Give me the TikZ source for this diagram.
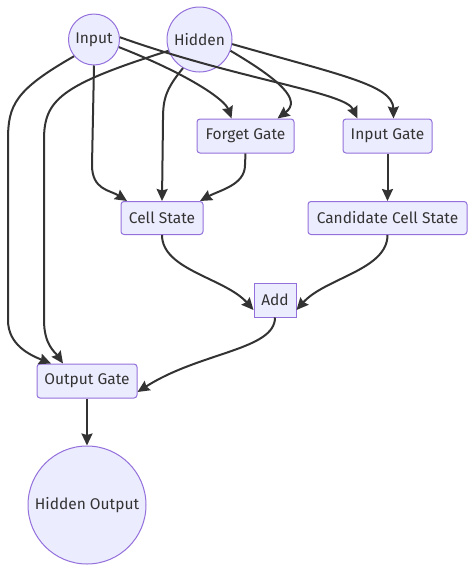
\documentclass[tikz,border=0pt]{standalone}
\usepackage{fontspec}
\setmainfont{Fira Sans}
\usetikzlibrary{arrows.meta}
\definecolor{nodefill}{HTML}{ECECFF}
\definecolor{nodeline}{HTML}{9370DB}
\definecolor{edge}{HTML}{333333}
\definecolor{txt}{HTML}{333333}
\tikzset{
  base/.style={draw=nodeline, fill=nodefill, line width=1pt, text=txt, font=\fontsize{15.5}{18}\selectfont, inner sep=0pt},
  box/.style={base, rectangle, rounded corners=3pt, minimum height=34pt},
  circ/.style={base, circle},
  conn/.style={draw=edge, line width=2pt, -{Stealth[length=12pt,width=11pt,inset=1.5pt]}},
}
\begin{document}
\begin{tikzpicture}[x=1pt,y=-1pt]
\useasboundingbox (0,0) rectangle (474,571);
\node[circ, minimum size=51pt] (inp) at (94,39.5) {Input};
\node[circ, minimum size=65pt] (hid) at (199.5,39.5) {Hidden};
\node[box, minimum width=97pt] (fg) at (245.5,136) {Forget Gate};
\node[box, minimum width=89pt] (ig) at (387.5,136) {Input Gate};
\node[box, minimum width=82pt, minimum height=33pt] (cs) at (162,218) {Cell State};
\node[box, minimum width=159pt, minimum height=33pt] (ccs) at (387.5,218) {Candidate Cell State};
\node[box, minimum width=42pt, rounded corners=0pt] (add) at (275,300) {Add};
\node[box, minimum width=100pt] (og) at (87,381) {Output Gate};
\node[circ, minimum size=118pt] (ho) at (87,505) {Hidden Output};
% Input edges
\draw[conn] (inp.220) .. controls (15,90) and (8,105) .. (8,140) -- (8,320) .. controls (8,345) and (30,355) .. ([xshift=-36pt]og.north);
\draw[conn] (inp.south) -- (92,165) .. controls (92,190) and (110,190) .. ([xshift=-35pt]cs.north);
\draw[conn] (inp.-17) .. controls (190,75) and (225,100) .. ([xshift=-14pt]fg.north);
\draw[conn] (inp.5) .. controls (240,80) and (345,92) .. ([xshift=-30pt]ig.north);
% Hidden edges
\draw[conn] (hid.200) .. controls (60,85) and (44,100) .. (44,140) -- (44,320) .. controls (44,345) and (55,352) .. ([xshift=-24pt]og.north);
\draw[conn] (hid.240) .. controls (165,90) and (163,100) .. (163,120) -- (cs.north);
\draw[conn] (hid.-20) .. controls (280,80) and (302,100) .. ([xshift=32pt]fg.north);
\draw[conn] (hid.-8) .. controls (340,75) and (393,85) .. ([xshift=6pt]ig.north);
% Others
\draw[conn] (fg.south) -- (245,165) .. controls (245,185) and (220,190) .. ([xshift=38pt]cs.north);
\draw[conn] (ig.south) -- (ccs.north);
\draw[conn] (cs.south) .. controls (162,270) and (225,278) .. ([yshift=-10pt]add.west);
\draw[conn] (ccs.south) .. controls (387.5,270) and (325,278) .. ([yshift=-10pt]add.east);
\draw[conn] (add.south) .. controls (275,350) and (200,352) .. ([yshift=-11pt]og.east);
\draw[conn] (og.south) -- (ho.north);
\end{tikzpicture}
\end{document}
